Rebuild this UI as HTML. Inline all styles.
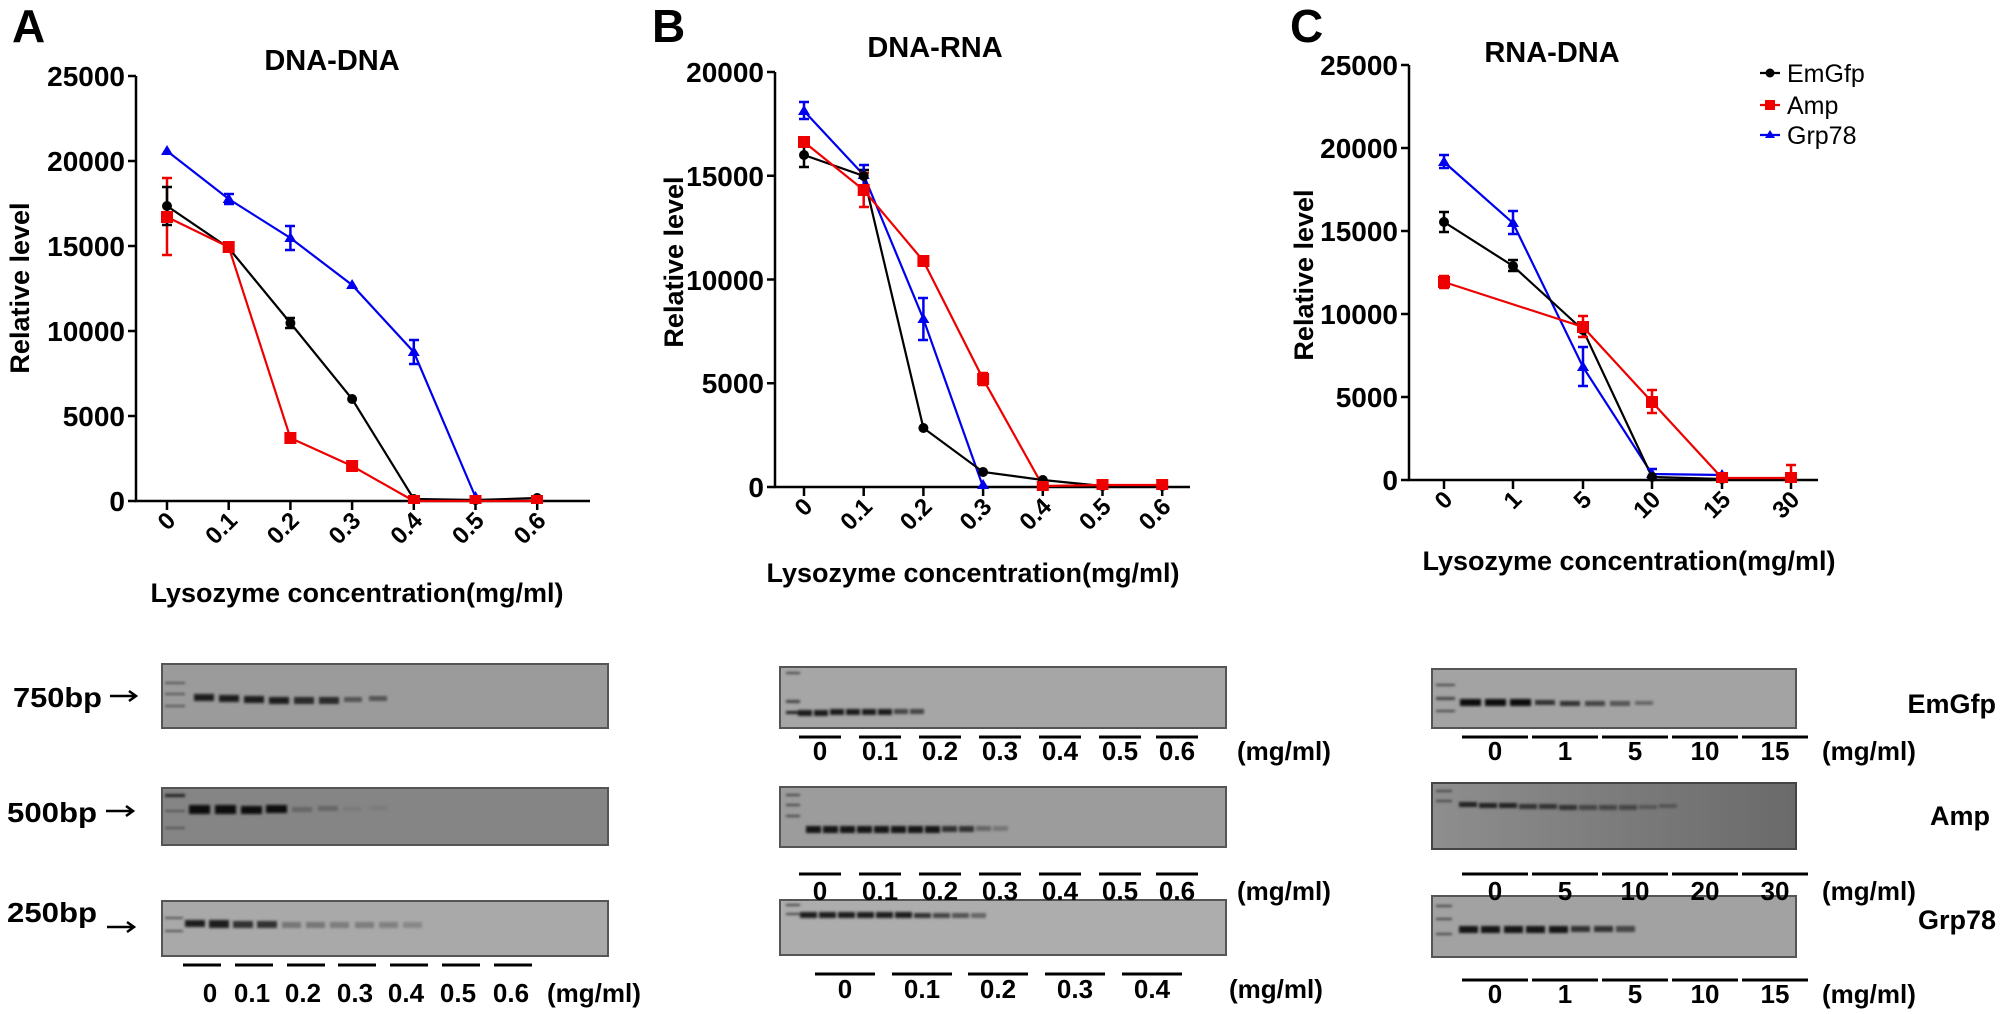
<!DOCTYPE html>
<html><head><meta charset="utf-8"><style>
html,body{margin:0;padding:0;background:#fff;}
svg{display:block;font-family:"Liberation Sans",Arial,sans-serif;}
.b{font-weight:bold;}
</style></head><body>
<svg width="2007" height="1014" viewBox="0 0 2007 1014" xmlns="http://www.w3.org/2000/svg">
<defs>
<filter id="bl" x="-20%" y="-100%" width="140%" height="300%"><feGaussianBlur stdDeviation="1.3"/></filter>
<linearGradient id="g2" x1="0" x2="1"><stop offset="0" stop-color="#8e8e8e"/><stop offset="1" stop-color="#6a6a6a"/></linearGradient>
</defs>

<!-- Panel letters -->
<text x="12" y="42" class="b" font-size="46">A</text>
<text x="652" y="42" class="b" font-size="46">B</text>
<text x="1290" y="42" class="b" font-size="46">C</text>

<!-- ===== Panel A chart ===== -->
<g stroke="#000" stroke-width="2.5" fill="none">
<path d="M136 76V501H590"/>
<path d="M128 76H136M128 161H136M128 246H136M128 331H136M128 416H136M128 501H136"/>
<path d="M167 501v9M228.7 501v9M290.4 501v9M352.1 501v9M413.8 501v9M475.5 501v9M537.2 501v9"/>
</g>
<g class="b" font-size="28" text-anchor="end">
<text x="125" y="86">25000</text><text x="125" y="171">20000</text><text x="125" y="256">15000</text>
<text x="125" y="341">10000</text><text x="125" y="426">5000</text><text x="125" y="511">0</text>
</g>
<g class="b" font-size="24" text-anchor="end">
<text transform="translate(177,522) rotate(-45)">0</text>
<text transform="translate(238.7,522) rotate(-45)">0.1</text>
<text transform="translate(300.4,522) rotate(-45)">0.2</text>
<text transform="translate(362.1,522) rotate(-45)">0.3</text>
<text transform="translate(423.8,522) rotate(-45)">0.4</text>
<text transform="translate(485.5,522) rotate(-45)">0.5</text>
<text transform="translate(547.2,522) rotate(-45)">0.6</text>
</g>
<text x="332" y="70" class="b" font-size="29" text-anchor="middle">DNA-DNA</text>
<text x="357" y="602" class="b" font-size="27" text-anchor="middle">Lysozyme concentration(mg/ml)</text>
<text transform="translate(29,288) rotate(-90)" class="b" font-size="27" text-anchor="middle">Relative level</text>
<!-- series A -->
<polyline fill="none" stroke="#0000ee" stroke-width="2.2" points="167,151 228.7,199 290.4,238 352.1,285 413.8,352 475.5,497"/>
<polyline fill="none" stroke="#000" stroke-width="2.2" points="167,206 228.7,248 290.4,323 352.1,399 413.8,499 475.5,500 537.2,498"/>
<polyline fill="none" stroke="#ee0000" stroke-width="2.2" points="167,217 228.7,247 290.4,438 352.1,466 413.8,501 475.5,501 537.2,501"/>
<g stroke-width="2.5" fill="none">
<path stroke="#ee0000" d="M167 178V255M162 178h10M162 255h10"/>
<path stroke="#000" d="M167 187V225M162 187h10M162 225h10M290.4 318v10M285 318h10M285 328h10"/>
<path stroke="#0000ee" d="M228.7 194v10M224 194h10M224 204h10M290.4 226v24M285 226h10M285 250h10M413.8 340v24M409 340h10M409 364h10"/>
</g>
<g fill="#0000ee"><path d="M167 145l6 10h-12zM228.7 193l6 10h-12zM290.4 232l6 10h-12zM352.1 279l6 10h-12zM413.8 346l6 10h-12zM475.5 491l6 10h-12z"/></g>
<g fill="#000"><circle cx="167" cy="206" r="5"/><circle cx="228.7" cy="248" r="5"/><circle cx="290.4" cy="323" r="5"/><circle cx="352.1" cy="399" r="5"/><circle cx="413.8" cy="499" r="5"/><circle cx="475.5" cy="500" r="5"/><circle cx="537.2" cy="498" r="5"/></g>
<g fill="#ee0000"><rect x="161" y="211" width="12" height="12"/><rect x="222.7" y="241" width="12" height="12"/><rect x="284.4" y="432" width="12" height="12"/><rect x="346.1" y="460" width="12" height="12"/><rect x="408" y="495" width="12" height="9"/><rect x="469.5" y="495" width="12" height="9"/><rect x="531" y="495" width="12" height="9"/></g>

<!-- ===== Panel B chart ===== -->
<g stroke="#000" stroke-width="2.5" fill="none">
<path d="M775 72V487H1190"/>
<path d="M767 72H775M767 175.75H775M767 279.5H775M767 383.25H775M767 487H775"/>
<path d="M804 487v9M863.7 487v9M923.4 487v9M983.1 487v9M1042.8 487v9M1102.5 487v9M1162.2 487v9"/>
</g>
<g class="b" font-size="28" text-anchor="end">
<text x="764" y="82">20000</text><text x="764" y="186">15000</text><text x="764" y="290">10000</text>
<text x="764" y="393">5000</text><text x="764" y="497">0</text>
</g>
<g class="b" font-size="24" text-anchor="end">
<text transform="translate(814,508) rotate(-45)">0</text>
<text transform="translate(873.7,508) rotate(-45)">0.1</text>
<text transform="translate(933.4,508) rotate(-45)">0.2</text>
<text transform="translate(993.1,508) rotate(-45)">0.3</text>
<text transform="translate(1052.8,508) rotate(-45)">0.4</text>
<text transform="translate(1112.5,508) rotate(-45)">0.5</text>
<text transform="translate(1172.2,508) rotate(-45)">0.6</text>
</g>
<text x="935" y="57" class="b" font-size="29" text-anchor="middle">DNA-RNA</text>
<text x="973" y="582" class="b" font-size="27" text-anchor="middle">Lysozyme concentration(mg/ml)</text>
<text transform="translate(683,262) rotate(-90)" class="b" font-size="27" text-anchor="middle">Relative level</text>
<polyline fill="none" stroke="#0000ee" stroke-width="2.2" points="804,111 863.7,175 923.4,319 983.1,487"/>
<polyline fill="none" stroke="#000" stroke-width="2.2" points="804,155 863.7,176 923.4,428 983.1,472 1042.8,480 1102.5,486 1162.2,487"/>
<polyline fill="none" stroke="#ee0000" stroke-width="2.2" points="804,142 863.7,190 923.4,261 983.1,379 1042.8,486 1102.5,485 1162.2,485"/>
<g stroke-width="2.5" fill="none">
<path stroke="#000" d="M804 143V167M799 143h10M799 167h10M863.7 170v12M859 170h10"/>
<path stroke="#ee0000" d="M863.7 173V207M859 173h10M859 207h10M983.1 373v12M978 373h10M978 385h10"/>
<path stroke="#0000ee" d="M804 102v17M799 102h10M799 119h10M863.7 165v20M859 165h10M923.4 298v42M918 298h10M918 340h10"/>
</g>
<g fill="#0000ee"><path d="M804 105l6 10h-12zM863.7 169l6 10h-12zM923.4 313l6 10h-12zM983.1 479l6 10h-12z"/></g>
<g fill="#000"><circle cx="804" cy="155" r="5"/><circle cx="863.7" cy="176" r="5"/><circle cx="923.4" cy="428" r="5"/><circle cx="983.1" cy="472" r="5"/><circle cx="1042.8" cy="480" r="5"/><circle cx="1102.5" cy="486" r="5"/><circle cx="1162.2" cy="486" r="5"/></g>
<g fill="#ee0000"><rect x="798" y="136" width="12" height="12"/><rect x="857.7" y="184" width="12" height="12"/><rect x="917.4" y="255" width="12" height="12"/><rect x="977.1" y="373" width="12" height="12"/><rect x="1036.8" y="481" width="12" height="10"/><rect x="1096.5" y="479" width="12" height="11"/><rect x="1156.2" y="479" width="12" height="11"/></g>

<!-- ===== Panel C chart ===== -->
<g stroke="#000" stroke-width="2.5" fill="none">
<path d="M1409 65V480H1818"/>
<path d="M1401 65H1409M1401 148H1409M1401 231H1409M1401 314H1409M1401 397H1409M1401 480H1409"/>
<path d="M1444 480v9M1513 480v9M1583 480v9M1652 480v9M1722 480v9M1791 480v9"/>
</g>
<g class="b" font-size="28" text-anchor="end">
<text x="1398" y="75">25000</text><text x="1398" y="158">20000</text><text x="1398" y="241">15000</text>
<text x="1398" y="324">10000</text><text x="1398" y="407">5000</text><text x="1398" y="490">0</text>
</g>
<g class="b" font-size="24" text-anchor="end">
<text transform="translate(1454,501) rotate(-45)">0</text>
<text transform="translate(1523,501) rotate(-45)">1</text>
<text transform="translate(1593,501) rotate(-45)">5</text>
<text transform="translate(1662,501) rotate(-45)">10</text>
<text transform="translate(1732,501) rotate(-45)">15</text>
<text transform="translate(1801,501) rotate(-45)">30</text>
</g>
<text x="1552" y="62" class="b" font-size="29" text-anchor="middle">RNA-DNA</text>
<text x="1629" y="570" class="b" font-size="27" text-anchor="middle">Lysozyme concentration(mg/ml)</text>
<text transform="translate(1313,275) rotate(-90)" class="b" font-size="27" text-anchor="middle">Relative level</text>
<polyline fill="none" stroke="#0000ee" stroke-width="2.2" points="1444,162 1513,223 1583,367 1652,474 1722,475"/>
<polyline fill="none" stroke="#000" stroke-width="2.2" points="1444,222 1513,266 1583,330 1652,477 1722,479"/>
<polyline fill="none" stroke="#ee0000" stroke-width="2.2" points="1444,282 1583,327 1652,402 1722,478 1791,478"/>
<g stroke-width="2.5" fill="none">
<path stroke="#000" d="M1444 212v20M1439 212h10M1439 232h10M1513 260v11M1508 260h10M1508 271h10"/>
<path stroke="#ee0000" d="M1444 276v12M1439 276h10M1439 288h10M1583 316v21M1578 316h10M1578 337h10M1652 390v23M1647 390h10M1647 413h10M1722 474v10M1717 474h10M1791 465v15M1786 465h10"/>
<path stroke="#0000ee" d="M1444 155v13M1439 155h10M1439 168h10M1513 211v23M1508 211h10M1508 234h10M1583 347v39M1578 347h10M1578 386h10M1652 469v6M1647 469h10"/>
</g>
<g fill="#0000ee"><path d="M1444 156l6 10h-12zM1513 217l6 10h-12zM1583 361l6 10h-12zM1652 468l6 10h-12zM1722 469l6 10h-12z"/></g>
<g fill="#000"><circle cx="1444" cy="222" r="5"/><circle cx="1513" cy="266" r="5"/><circle cx="1583" cy="330" r="5"/><circle cx="1652" cy="477" r="5"/><circle cx="1722" cy="479" r="5"/></g>
<g fill="#ee0000"><rect x="1438" y="276" width="12" height="12"/><rect x="1577" y="321" width="12" height="12"/><rect x="1646" y="396" width="12" height="12"/><rect x="1716" y="472" width="12" height="11"/><rect x="1785" y="472" width="12" height="11"/></g>
<!-- legend -->
<g stroke-width="2.2"><path stroke="#000" d="M1760 73h20"/><path stroke="#ee0000" d="M1760 105h20"/><path stroke="#0000ee" d="M1760 135h20"/></g>
<circle cx="1770" cy="73" r="4.5" fill="#000"/><rect x="1765" y="100" width="10" height="10" fill="#ee0000"/><path d="M1770 130l5 8h-10z" fill="#0000ee"/>
<g font-size="25"><text x="1787" y="82">EmGfp</text><text x="1787" y="114">Amp</text><text x="1787" y="144">Grp78</text></g>

<!-- ===== Gels A ===== -->
<g class="b" font-size="28">
<text x="13" y="707" textLength="89" lengthAdjust="spacingAndGlyphs">750bp</text>
<text x="7" y="822" textLength="90" lengthAdjust="spacingAndGlyphs">500bp</text>
<text x="7" y="922" textLength="90" lengthAdjust="spacingAndGlyphs">250bp</text>
</g>
<g stroke="#000" stroke-width="2.5" fill="none">
<path d="M110 696h26M129 691l7 5-7 5"/>
<path d="M106 811h27M126 806l7 5-7 5"/>
<path d="M107 927h27M127 922l7 5-7 5"/>
</g>
<rect x="162" y="664" width="446" height="64" fill="#9b9b9b" stroke="#555" stroke-width="2"/>
<rect x="162" y="788" width="446" height="57" fill="#858585" stroke="#555" stroke-width="2"/>
<rect x="162" y="901" width="446" height="55" fill="#a9a9a9" stroke="#555" stroke-width="2"/>
<g filter="url(#bl)">
<g fill="#555"><rect x="165" y="682" width="20" height="2"/><rect x="165" y="693" width="20" height="2"/><rect x="165" y="705" width="20" height="2"/>
<rect x="165" y="794" width="20" height="3" fill="#222"/><rect x="165" y="810" width="20" height="2"/><rect x="165" y="827" width="20" height="2"/>
<rect x="165" y="917" width="18" height="2"/><rect x="165" y="930" width="18" height="2"/></g>
<g fill="#1a1a1a"><rect x="194" y="694" width="20" height="7"/><rect x="219" y="695" width="20" height="7"/><rect x="244" y="696" width="20" height="7"/><rect x="269" y="697" width="20" height="7"/><rect x="294" y="697" width="20" height="7" fill="#2a2a2a"/><rect x="319" y="697" width="20" height="7" fill="#2a2a2a"/><rect x="344" y="697" width="18" height="5" fill="#555"/><rect x="369" y="696" width="18" height="5" fill="#555"/></g>
<g fill="#111"><rect x="189" y="805" width="21" height="9"/><rect x="215" y="805" width="21" height="9"/><rect x="241" y="806" width="21" height="8"/><rect x="266" y="805" width="21" height="8"/><rect x="292" y="807" width="20" height="5" fill="#666"/><rect x="318" y="806" width="20" height="5" fill="#666"/><rect x="343" y="807" width="18" height="4" fill="#7a7a7a"/><rect x="369" y="806" width="18" height="4" fill="#7a7a7a"/></g>
<g fill="#1e1e1e"><rect x="185" y="920" width="20" height="7"/><rect x="209" y="920" width="20" height="8"/><rect x="233" y="921" width="20" height="7" fill="#333"/><rect x="257" y="921" width="20" height="7" fill="#333"/><rect x="282" y="922" width="19" height="6" fill="#777"/><rect x="306" y="922" width="19" height="6" fill="#777"/><rect x="330" y="922" width="19" height="6" fill="#7d7d7d"/><rect x="355" y="922" width="19" height="6" fill="#7d7d7d"/><rect x="379" y="922" width="19" height="6" fill="#808080"/><rect x="403" y="922" width="19" height="6" fill="#888"/></g>
</g>
<g stroke="#000" stroke-width="3"><path d="M183 965h38M235 965h38M287 965h38M338 965h38M390 965h38M442 965h38M494 965h38"/></g>
<g class="b" font-size="26" text-anchor="middle"><text x="210" y="1002">0</text><text x="252" y="1002">0.1</text><text x="303" y="1002">0.2</text><text x="355" y="1002">0.3</text><text x="406" y="1002">0.4</text><text x="458" y="1002">0.5</text><text x="511" y="1002">0.6</text></g>
<text x="547" y="1002" class="b" font-size="26">(mg/ml)</text>

<!-- ===== Gels B ===== -->
<rect x="780" y="667" width="446" height="61" fill="#a6a6a6" stroke="#555" stroke-width="2"/>
<rect x="780" y="787" width="446" height="60" fill="#9c9c9c" stroke="#555" stroke-width="2"/>
<rect x="780" y="900" width="446" height="55" fill="#adadad" stroke="#555" stroke-width="2"/>
<g filter="url(#bl)">
<g fill="#444"><rect x="786" y="672" width="14" height="2"/><rect x="786" y="700" width="14" height="3"/><rect x="786" y="711" width="14" height="3" fill="#222"/>
<rect x="786" y="794" width="14" height="2"/><rect x="786" y="804" width="14" height="2"/><rect x="786" y="815" width="14" height="2"/>
<rect x="786" y="904" width="14" height="2"/><rect x="786" y="913" width="14" height="2"/></g>
<g fill="#1a1a1a"><rect x="798" y="710" width="14" height="6"/><rect x="814" y="710" width="14" height="6"/><rect x="830" y="709" width="14" height="6"/><rect x="846" y="709" width="14" height="6"/><rect x="862" y="709" width="14" height="6"/><rect x="878" y="709" width="14" height="6"/><rect x="894" y="709" width="14" height="5" fill="#444"/><rect x="910" y="709" width="14" height="5" fill="#444"/></g>
<g fill="#151515"><rect x="806" y="826" width="15" height="7"/><rect x="823" y="826" width="15" height="7"/><rect x="840" y="826" width="15" height="7"/><rect x="857" y="826" width="15" height="7"/><rect x="874" y="826" width="15" height="7"/><rect x="891" y="826" width="15" height="7"/><rect x="908" y="826" width="15" height="7"/><rect x="925" y="826" width="15" height="7"/><rect x="942" y="826" width="15" height="6" fill="#333"/><rect x="959" y="826" width="15" height="6" fill="#333"/><rect x="976" y="826" width="15" height="5" fill="#666"/><rect x="993" y="826" width="15" height="5" fill="#777"/></g>
<g fill="#1a1a1a"><rect x="800" y="912" width="17" height="6"/><rect x="819" y="912" width="17" height="6"/><rect x="838" y="912" width="17" height="6"/><rect x="857" y="912" width="17" height="6"/><rect x="876" y="912" width="17" height="6"/><rect x="895" y="912" width="17" height="6"/><rect x="914" y="913" width="17" height="5" fill="#333"/><rect x="933" y="913" width="17" height="5" fill="#444"/><rect x="952" y="913" width="17" height="5" fill="#555"/><rect x="971" y="913" width="15" height="5" fill="#666"/></g>
</g>
<g stroke="#000" stroke-width="3">
<path d="M799 737h42M859 737h42M919 737h42M979 737h42M1039 737h42M1099 737h42M1156 737h42"/>
<path d="M799 874h42M859 874h42M919 874h42M979 874h42M1039 874h42M1099 874h42M1156 874h42"/>
<path d="M815 974h60M892 974h60M968 974h60M1045 974h60M1122 974h60"/>
</g>
<g class="b" font-size="26" text-anchor="middle">
<text x="820" y="760">0</text><text x="880" y="760">0.1</text><text x="940" y="760">0.2</text><text x="1000" y="760">0.3</text><text x="1060" y="760">0.4</text><text x="1120" y="760">0.5</text><text x="1177" y="760">0.6</text>
<text x="820" y="900">0</text><text x="880" y="900">0.1</text><text x="940" y="900">0.2</text><text x="1000" y="900">0.3</text><text x="1060" y="900">0.4</text><text x="1120" y="900">0.5</text><text x="1177" y="900">0.6</text>
<text x="845" y="998">0</text><text x="922" y="998">0.1</text><text x="998" y="998">0.2</text><text x="1075" y="998">0.3</text><text x="1152" y="998">0.4</text>
</g>
<g class="b" font-size="26"><text x="1237" y="760">(mg/ml)</text><text x="1237" y="900">(mg/ml)</text><text x="1229" y="998">(mg/ml)</text></g>

<!-- ===== Gels C ===== -->
<rect x="1432" y="669" width="364" height="59" fill="#a3a3a3" stroke="#555" stroke-width="2"/>
<rect x="1432" y="783" width="364" height="66" fill="url(#g2)" stroke="#444" stroke-width="2"/>
<rect x="1432" y="896" width="364" height="61" fill="#a2a2a2" stroke="#555" stroke-width="2"/>
<g filter="url(#bl)">
<g fill="#444"><rect x="1436" y="684" width="19" height="2"/><rect x="1436" y="697" width="19" height="3"/><rect x="1436" y="710" width="19" height="2"/>
<rect x="1436" y="790" width="16" height="2"/><rect x="1436" y="800" width="16" height="2"/>
<rect x="1436" y="905" width="16" height="2"/><rect x="1436" y="918" width="16" height="2"/><rect x="1436" y="933" width="16" height="2"/></g>
<g fill="#111"><rect x="1460" y="699" width="21" height="7"/><rect x="1485" y="699" width="21" height="7"/><rect x="1510" y="699" width="21" height="7"/><rect x="1535" y="700" width="20" height="5" fill="#333"/><rect x="1560" y="701" width="20" height="5" fill="#333"/><rect x="1585" y="701" width="20" height="5" fill="#444"/><rect x="1610" y="701" width="20" height="5" fill="#555"/><rect x="1635" y="701" width="18" height="4" fill="#666"/></g>
<g fill="#222"><rect x="1459" y="802" width="18" height="5"/><rect x="1479" y="803" width="18" height="5"/><rect x="1499" y="803" width="18" height="5"/><rect x="1519" y="804" width="18" height="5" fill="#333"/><rect x="1539" y="804" width="18" height="5" fill="#333"/><rect x="1559" y="805" width="18" height="5" fill="#333"/><rect x="1579" y="805" width="18" height="5" fill="#444"/><rect x="1599" y="805" width="18" height="5" fill="#444"/><rect x="1619" y="805" width="18" height="5" fill="#444"/><rect x="1639" y="805" width="18" height="4" fill="#555"/><rect x="1659" y="804" width="18" height="4" fill="#555"/></g>
<g fill="#151515"><rect x="1459" y="926" width="19" height="7"/><rect x="1481" y="926" width="19" height="7"/><rect x="1504" y="926" width="19" height="7"/><rect x="1526" y="926" width="19" height="7"/><rect x="1549" y="926" width="19" height="7"/><rect x="1571" y="926" width="19" height="6" fill="#333"/><rect x="1594" y="926" width="19" height="6" fill="#333"/><rect x="1616" y="926" width="19" height="6" fill="#444"/></g>
</g>
<g stroke="#000" stroke-width="3">
<path d="M1462 737h66M1532 737h66M1602 737h66M1672 737h66M1742 737h66"/>
<path d="M1462 874h66M1532 874h66M1602 874h66M1672 874h66M1742 874h66"/>
<path d="M1462 980h66M1532 980h66M1602 980h66M1672 980h66M1742 980h66"/>
</g>
<g class="b" font-size="26" text-anchor="middle">
<text x="1495" y="760">0</text><text x="1565" y="760">1</text><text x="1635" y="760">5</text><text x="1705" y="760">10</text><text x="1775" y="760">15</text>
<text x="1495" y="900">0</text><text x="1565" y="900">5</text><text x="1635" y="900">10</text><text x="1705" y="900">20</text><text x="1775" y="900">30</text>
<text x="1495" y="1003">0</text><text x="1565" y="1003">1</text><text x="1635" y="1003">5</text><text x="1705" y="1003">10</text><text x="1775" y="1003">15</text>
</g>
<g class="b" font-size="26"><text x="1822" y="760">(mg/ml)</text><text x="1822" y="900">(mg/ml)</text><text x="1822" y="1003">(mg/ml)</text></g>
<g class="b" font-size="27" text-anchor="end"><text x="1996" y="713">EmGfp</text><text x="1990" y="825">Amp</text><text x="1996" y="929">Grp78</text></g>
</svg>
</body></html>
